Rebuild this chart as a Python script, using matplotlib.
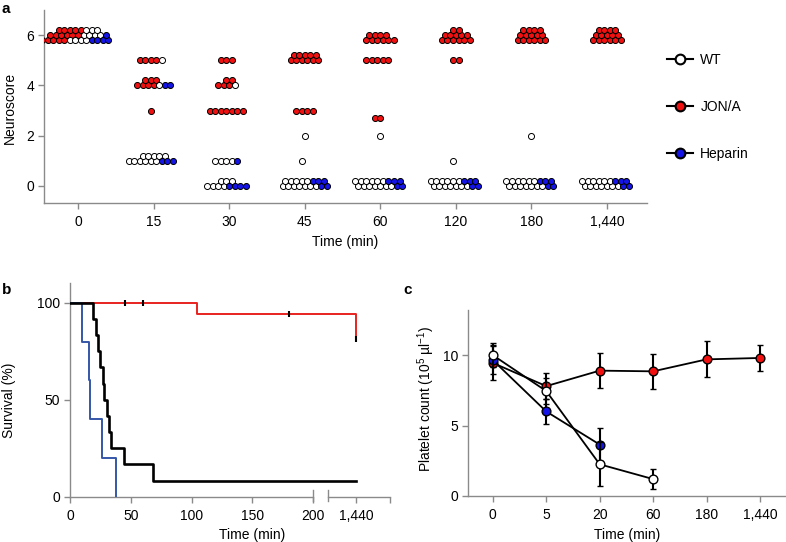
import numpy as np
import matplotlib
matplotlib.use("Agg")
import matplotlib.pyplot as plt
from matplotlib.lines import Line2D

plt.rcParams['font.family'] = ['Liberation Sans', 'DejaVu Sans']
plt.rcParams['mathtext.fontset'] = 'custom'
plt.rcParams['mathtext.rm'] = 'Liberation Sans'
plt.rcParams['mathtext.it'] = 'Liberation Sans:italic'

times_a = ["0", "15", "30", "45", "60", "120", "180", "1,440"]
jona_a = [
    [5.8] * 5 + [6.0] * 6 + [6.2] * 5,
    [5.0] * 4 + [4.0] * 4 + [4.2] * 3 + [3.0],
    [5.0] * 3 + [4.0] * 3 + [4.2] * 2 + [3.0] * 7,
    [5.0] * 6 + [5.2] * 5 + [3.0] * 4,
    [5.8] * 6 + [6.0] * 4 + [5.0] * 5 + [2.7] * 2,
    [5.8] * 6 + [6.0] * 5 + [6.2] * 2 + [5.0] * 2,
    [5.8] * 6 + [6.0] * 5 + [6.2] * 4,
    [5.8] * 6 + [6.0] * 5 + [6.2] * 4,
]
wt_a = [
    [5.8] * 4 + [6.0] * 4 + [6.2] * 3,
    [5.0] + [4.0] + [1.0] * 6 + [1.2] * 5,
    [4.0] + [1.0] * 4 + [0.0] * 4 + [0.2] * 3,
    [2.0] + [1.0] + [0.0] * 7 + [0.2] * 5,
    [2.0] + [0.0] * 7 + [0.2] * 6,
    [1.0] + [0.0] * 7 + [0.2] * 6,
    [2.0] + [0.0] * 7 + [0.2] * 6,
    [0.0] * 7 + [0.2] * 6,
]
hep_a = [
    [5.8] * 4 + [6.0],
    [4.0] * 2 + [1.0] * 3,
    [1.0] + [0.0] * 4,
    [0.0] * 2 + [0.2] * 3,
    [0.0] * 2 + [0.2] * 3,
    [0.0] * 2 + [0.2] * 3,
    [0.0] * 2 + [0.2] * 3,
    [0.0] * 2 + [0.2] * 3,
]

# ---- panel b: Kaplan-Meier steps ----
wt_t = [0, 18.6, 21, 22.7, 24.7, 26.8, 28.2, 30.1, 32, 33.7, 44.7, 68, 1440]
wt_s = [100, 91.7, 83.3, 75, 66.7, 58.3, 50, 41.7, 33.3, 25, 16.7, 8.3, 8.3]
jona_t = [0, 104.6, 1440]
jona_s = [100, 94.4, 81.6]
jona_cens_t = [45, 60, 180, 1440]
jona_cens_s = [100, 100, 94.4, 81.6]
hep_t = [0, 10.1, 15.6, 16.5, 26.6, 37.5]
hep_s = [100, 80, 60, 40, 20, 0]

# ---- panel c: platelet counts, mean +- error ----
times_c = ["0", "5", "20", "60", "180", "1,440"]
jona_c = [9.45, 7.8, 8.9, 8.85, 9.7, 9.8]
jona_c_err = [1.25, 0.9, 1.25, 1.25, 1.27, 0.95]
hep_c = [9.65, 6.0, 3.65]
hep_c_err = [1.0, 0.9, 1.2]
wt_c = [10.0, 7.45, 2.25, 1.2]
wt_c_err = [0.85, 0.9, 1.55, 0.7]

RED = '#f01010'
BLUE = '#1414e6'
AXC = '#8a8a8a'


def swarm_xy(groups, center, step, row_h=0.2):
    """Lay points out side by side per row, hex-offset between rows."""
    out = [([], []) for _ in groups]
    rows = sorted(set(v for g in groups for v in g))
    for r in rows:
        members = [gi for gi, g in enumerate(groups) for v in g if v == r]
        n = len(members)
        offs = np.arange(n) - (n - 1) / 2
        parity = int(round(r / row_h)) % 2
        if (n % 2 == 1) == (parity == 1):
            offs = offs - 0.5
        for gi, o in zip(members, offs):
            out[gi][0].append(center + o * step)
            out[gi][1].append(r)
    return out


def style_axes(ax, size=10):
    for s in ['top', 'right']:
        ax.spines[s].set_visible(False)
    for s in ['left', 'bottom']:
        ax.spines[s].set_color(AXC)
        ax.spines[s].set_linewidth(1.0)
    ax.tick_params(colors=AXC, labelcolor='black', width=1.0, length=4,
                   labelsize=size)


fig = plt.figure(figsize=(7.86, 5.42), dpi=100)

# panel a
ax = fig.add_axes([0.056, 0.6255, 0.767, 0.356])
style_axes(ax, 10)
for ti in range(len(times_a)):
    pos = swarm_xy([jona_a[ti], wt_a[ti], hep_a[ti]], ti, 0.073)
    for (xs, ys), c in zip(pos, [RED, 'white', BLUE]):
        ax.scatter(xs, ys, s=19, c=c, edgecolors='black', linewidths=0.7,
                   zorder=3)
ax.set_xlim(-0.45, 7.53)
ax.set_ylim(-0.68, 7.0)
ax.set_xticks(range(len(times_a)))
ax.set_xticklabels(times_a)
ax.set_yticks([0, 2, 4, 6])
ax.tick_params(axis='x', pad=5)
ax.tick_params(axis='y', pad=3)
ax.set_xlabel('Time (min)', fontsize=10, va='center')
ax.xaxis.set_label_coords(0.5, -0.2)
ax.set_ylabel('Neuroscore', fontsize=10, va='center')
ax.yaxis.set_label_coords(-0.057, 0.49)

handles = [Line2D([], [], color='black', lw=1.5, marker='o', ms=7, mfc=c,
                  mec='black', mew=1.5) for c in ['white', RED, BLUE]]
fig.legend(handles, ['WT', 'JON/A', 'Heparin'], loc='center left',
           bbox_to_anchor=(667 / 786, (542 - 107) / 542), frameon=False,
           fontsize=10, handlelength=1.9, handletextpad=0.5,
           labelspacing=2.4, borderpad=0, borderaxespad=0)

# panel b
bt = [0, 200, 1440, 2000]
bx = [0, 200, 235, 263]
ax = fig.add_axes([0.0891, 0.0836, 0.407, 0.394])
ax.set_xscale('function', functions=(lambda t: np.interp(t, bt, bx),
                                     lambda x: np.interp(x, bx, bt)))
style_axes(ax, 10)
ax.step(jona_t, jona_s, where='post', color='#e8231f', lw=1.4, zorder=2)
ax.step(hep_t, hep_s, where='post', color='#3556a8', lw=1.4, zorder=3)
ax.step(wt_t, wt_s, where='post', color='black', lw=1.9, zorder=4)
ax.plot(jona_cens_t, jona_cens_s, ls='none', marker='|', ms=5, mew=1.5,
        color='black', zorder=5)
ax.set_xlim(0, 2000)
ax.set_ylim(0, 110.2)
ax.set_xticks([0, 50, 100, 150, 200, 1440, 2000])
ax.set_xticklabels(['0', '50', '100', '150', '200', '1,440', ''])
ax.set_yticks([0, 50, 100])
ax.spines['bottom'].set_bounds(0, 200)
xt = ax.get_xaxis_transform()
ax.plot([625, 2000], [0, 0], transform=xt, color=AXC, lw=1.0, clip_on=False)
for t in [200, 625]:
    ax.plot([t, t], [-0.02, 0.033], transform=xt, color=AXC, lw=1.0,
            clip_on=False)
ax.tick_params(axis='x', pad=5)
ax.tick_params(axis='y', pad=3)
ax.set_xlabel('Time (min)', fontsize=10, va='center')
ax.xaxis.set_label_coords(0.57, -0.18)
ax.set_ylabel('Survival (%)', fontsize=10, va='center')
ax.yaxis.set_label_coords(-0.19, 0.45)

# panel c
ax = fig.add_axes([0.595, 0.0849, 0.4046, 0.343])
style_axes(ax, 10)
eb = dict(ecolor='black', elinewidth=1.5, capsize=2.5, capthick=1.5)
mk = dict(marker='o', ms=6.3, mec='black', mew=1.0, color='black', lw=1.3)
ax.errorbar(range(len(jona_c)), jona_c, yerr=jona_c_err, mfc=RED, zorder=2,
            **mk, **eb)
ax.errorbar(range(len(hep_c)), hep_c, yerr=hep_c_err, mfc=BLUE, zorder=3,
            **mk, **eb)
ax.errorbar(range(len(wt_c)), wt_c, yerr=wt_c_err, mfc='white', zorder=4,
            **mk, **eb)
ax.set_xlim(-0.47, 5.48)
ax.set_ylim(0, 13.2)
ax.set_xticks(range(len(times_c)))
ax.set_xticklabels(times_c)
ax.set_yticks([0, 5, 10])
ax.tick_params(axis='x', pad=5)
ax.tick_params(axis='y', pad=3)
ax.set_xlabel('Time (min)', fontsize=10, va='center')
ax.xaxis.set_label_coords(0.5, -0.21)
ax.set_ylabel(r'Platelet count (10$^{5}$ µl$^{-1}$)', fontsize=10,
              va='center')
ax.yaxis.set_label_coords(-0.13, 0.52)

for x, y, s in [(0.002, 0.997, 'a'), (0.002, 0.478, 'b'),
                (0.513, 0.478, 'c')]:
    fig.text(x, y, s, fontsize=11, fontweight='bold', va='top')

fig.savefig('out.png', dpi=100)
